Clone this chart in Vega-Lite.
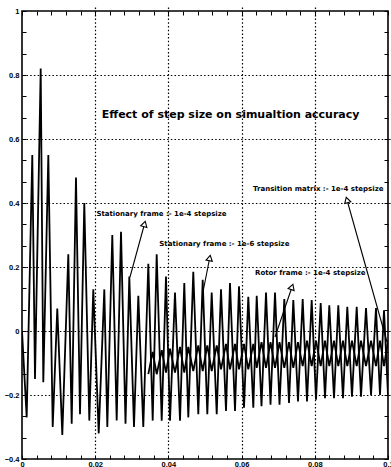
{
  "$schema": "https://vega.github.io/schema/vega-lite/v6.json",
  "autosize": "none",
  "width": 366,
  "height": 448,
  "padding": {"left": 22, "top": 11, "right": 3, "bottom": 8},
  "background": "white",
  "config": {
    "view": {"stroke": "black", "strokeWidth": 1.6},
    "font": "Liberation Sans",
    "axis": {"domain": false, "labelFont": "Liberation Sans", "labelFontWeight": "bold", "labelFontSize": 7.5, "labelColor": "black", "tickColor": "black", "tickSize": 4, "offset": -4, "tickWidth": 1, "labelOverlap": false, "labelFlush": false, "title": null}
  },
  "datasets": {
    "sig": [
      {"s": "A", "t": 0, "v": 0.0},
      {"s": "A", "t": 0.00128, "v": -0.27},
      {"s": "A", "t": 0.00281, "v": 0.55},
      {"s": "A", "t": 0.00355, "v": -0.15},
      {"s": "A", "t": 0.00511, "v": 0.82},
      {"s": "A", "t": 0.00582, "v": -0.16},
      {"s": "A", "t": 0.00719, "v": 0.55},
      {"s": "A", "t": 0.00839, "v": -0.30},
      {"s": "A", "t": 0.00964, "v": 0.07},
      {"s": "A", "t": 0.01101, "v": -0.325},
      {"s": "A", "t": 0.01265, "v": 0.24},
      {"s": "A", "t": 0.01358, "v": -0.29},
      {"s": "A", "t": 0.01475, "v": 0.48},
      {"s": "A", "t": 0.01585, "v": -0.26},
      {"s": "A", "t": 0.01702, "v": 0.40},
      {"s": "A", "t": 0.01839, "v": -0.28},
      {"s": "A", "t": 0.01948, "v": 0.13},
      {"s": "A", "t": 0.02096, "v": -0.32},
      {"s": "A", "t": 0.02249, "v": 0.13},
      {"s": "A", "t": 0.02331, "v": -0.30},
      {"s": "A", "t": 0.02467, "v": 0.30},
      {"s": "A", "t": 0.02587, "v": -0.28},
      {"s": "A", "t": 0.02705, "v": 0.31},
      {"s": "A", "t": 0.02828, "v": -0.29},
      {"s": "A", "t": 0.02932, "v": 0.17},
      {"s": "A", "t": 0.0306, "v": -0.30},
      {"s": "A", "t": 0.03178, "v": 0.11},
      {"s": "A", "t": 0.03314, "v": -0.30},
      {"s": "A", "t": 0.03451, "v": 0.21},
      {"s": "A", "t": 0.03571, "v": -0.28},
      {"s": "A", "t": 0.0368, "v": 0.24},
      {"s": "A", "t": 0.03817, "v": -0.28},
      {"s": "A", "t": 0.03934, "v": 0.17},
      {"s": "A", "t": 0.04044, "v": -0.28},
      {"s": "A", "t": 0.0418, "v": 0.12},
      {"s": "A", "t": 0.04317, "v": -0.28},
      {"s": "A", "t": 0.04434, "v": 0.15},
      {"s": "A", "t": 0.04544, "v": -0.27},
      {"s": "A", "t": 0.0468, "v": 0.185},
      {"s": "A", "t": 0.04817, "v": -0.26},
      {"s": "A", "t": 0.04937, "v": 0.16},
      {"s": "A", "t": 0.05063, "v": -0.26},
      {"s": "A", "t": 0.05183, "v": 0.12},
      {"s": "A", "t": 0.0532, "v": -0.26},
      {"s": "A", "t": 0.05437, "v": 0.13},
      {"s": "A", "t": 0.05574, "v": -0.25},
      {"s": "A", "t": 0.05683, "v": 0.15},
      {"s": "A", "t": 0.0582, "v": -0.25},
      {"s": "A", "t": 0.05929, "v": 0.14},
      {"s": "A", "t": 0.06066, "v": -0.24},
      {"s": "A", "t": 0.06183, "v": 0.107},
      {"s": "A", "t": 0.0632, "v": -0.24},
      {"s": "A", "t": 0.06413, "v": 0.11},
      {"s": "A", "t": 0.06544, "v": -0.235},
      {"s": "A", "t": 0.06667, "v": 0.12},
      {"s": "A", "t": 0.0679, "v": -0.23},
      {"s": "A", "t": 0.06913, "v": 0.12},
      {"s": "A", "t": 0.07036, "v": -0.23},
      {"s": "A", "t": 0.07167, "v": 0.10},
      {"s": "A", "t": 0.07295, "v": -0.225},
      {"s": "A", "t": 0.07413, "v": 0.097},
      {"s": "A", "t": 0.07541, "v": -0.22},
      {"s": "A", "t": 0.07669, "v": 0.10},
      {"s": "A", "t": 0.07787, "v": -0.22},
      {"s": "A", "t": 0.07915, "v": 0.097},
      {"s": "A", "t": 0.08033, "v": -0.215},
      {"s": "A", "t": 0.08161, "v": 0.087},
      {"s": "A", "t": 0.08279, "v": -0.21},
      {"s": "A", "t": 0.08396, "v": 0.08},
      {"s": "A", "t": 0.08525, "v": -0.21},
      {"s": "A", "t": 0.08642, "v": 0.08},
      {"s": "A", "t": 0.0877, "v": -0.21},
      {"s": "A", "t": 0.08888, "v": 0.076},
      {"s": "A", "t": 0.09016, "v": -0.205},
      {"s": "A", "t": 0.09145, "v": 0.076},
      {"s": "A", "t": 0.09262, "v": -0.205},
      {"s": "A", "t": 0.09399, "v": 0.072},
      {"s": "A", "t": 0.09536, "v": -0.20},
      {"s": "A", "t": 0.09672, "v": 0.072},
      {"s": "A", "t": 0.09781, "v": -0.20},
      {"s": "A", "t": 0.09891, "v": 0.065},
      {"s": "A", "t": 0.1, "v": -0.20},
      {"s": "B", "t": 0.03451, "v": -0.135},
      {"s": "B", "t": 0.03571, "v": -0.065},
      {"s": "B", "t": 0.0368, "v": -0.135},
      {"s": "B", "t": 0.03817, "v": -0.06},
      {"s": "B", "t": 0.03934, "v": -0.13},
      {"s": "B", "t": 0.04044, "v": -0.055},
      {"s": "B", "t": 0.0418, "v": -0.13},
      {"s": "B", "t": 0.04317, "v": -0.05},
      {"s": "B", "t": 0.04434, "v": -0.13},
      {"s": "B", "t": 0.04544, "v": -0.05},
      {"s": "B", "t": 0.0468, "v": -0.125},
      {"s": "B", "t": 0.04817, "v": -0.045},
      {"s": "B", "t": 0.04937, "v": -0.125},
      {"s": "B", "t": 0.05063, "v": -0.045},
      {"s": "B", "t": 0.05183, "v": -0.125},
      {"s": "B", "t": 0.0532, "v": -0.045},
      {"s": "B", "t": 0.05437, "v": -0.12},
      {"s": "B", "t": 0.05574, "v": -0.04},
      {"s": "B", "t": 0.05683, "v": -0.12},
      {"s": "B", "t": 0.0582, "v": -0.04},
      {"s": "B", "t": 0.05929, "v": -0.12},
      {"s": "B", "t": 0.06066, "v": -0.04},
      {"s": "B", "t": 0.06183, "v": -0.12},
      {"s": "B", "t": 0.0632, "v": -0.04},
      {"s": "B", "t": 0.06413, "v": -0.115},
      {"s": "B", "t": 0.06544, "v": -0.035},
      {"s": "B", "t": 0.06667, "v": -0.115},
      {"s": "B", "t": 0.0679, "v": -0.035},
      {"s": "B", "t": 0.06913, "v": -0.115},
      {"s": "B", "t": 0.07036, "v": -0.035},
      {"s": "B", "t": 0.07167, "v": -0.115},
      {"s": "B", "t": 0.07295, "v": -0.035},
      {"s": "B", "t": 0.07413, "v": -0.115},
      {"s": "B", "t": 0.07541, "v": -0.035},
      {"s": "B", "t": 0.07669, "v": -0.11},
      {"s": "B", "t": 0.07787, "v": -0.03},
      {"s": "B", "t": 0.07915, "v": -0.11},
      {"s": "B", "t": 0.08033, "v": -0.03},
      {"s": "B", "t": 0.08161, "v": -0.11},
      {"s": "B", "t": 0.08279, "v": -0.03},
      {"s": "B", "t": 0.08396, "v": -0.11},
      {"s": "B", "t": 0.08525, "v": -0.03},
      {"s": "B", "t": 0.08642, "v": -0.11},
      {"s": "B", "t": 0.0877, "v": -0.03},
      {"s": "B", "t": 0.08888, "v": -0.11},
      {"s": "B", "t": 0.09016, "v": -0.03},
      {"s": "B", "t": 0.09145, "v": -0.11},
      {"s": "B", "t": 0.09262, "v": -0.03},
      {"s": "B", "t": 0.09399, "v": -0.11},
      {"s": "B", "t": 0.09536, "v": -0.03},
      {"s": "B", "t": 0.09672, "v": -0.11},
      {"s": "B", "t": 0.09781, "v": -0.03},
      {"s": "B", "t": 0.09891, "v": -0.11},
      {"s": "B", "t": 0.1, "v": -0.03}
    ],
    "arrows": [
      {"id": 1, "t": 0.02951, "v": 0.1688, "t2": 0.03347, "v2": 0.3344},
      {"id": 2, "t": 0.04945, "v": 0.1219, "t2": 0.05128, "v2": 0.2281},
      {"id": 3, "t": 0.06913, "v": -0.0188, "t2": 0.07377, "v2": 0.1375},
      {"id": 4, "t": 0.09973, "v": -0.0344, "t2": 0.0888, "v2": 0.4094}
    ],
    "labels": [
      {"label": "Effect of step size on simualtion accuracy", "kind": "title", "t": 0.02178, "v": 0.675},
      {"label": "Stationary frame :- 1e-4 stepsize", "kind": "note", "t": 0.02033, "v": 0.366},
      {"label": "Stationary frame :- 1e-6 stepsize", "kind": "note", "t": 0.03751, "v": 0.272},
      {"label": "Rotor frame :- 1e-4 stepsize", "kind": "note", "t": 0.06366, "v": 0.18},
      {"label": "Transition matrix :- 1e-4 stepsize", "kind": "note", "t": 0.06311, "v": 0.444}
    ]
  },
  "layer": [
    {
      "data": {"name": "sig"},
      "mark": {"type": "line", "color": "black", "strokeWidth": 1.8, "clip": true},
      "encoding": {
        "x": {"field": "t", "type": "quantitative", "scale": {"domain": [0, 0.1], "nice": false, "zero": false},
          "axis": {"orient": "bottom", "values": [0,0.004,0.008,0.012,0.016,0.02,0.024,0.028,0.032,0.036,0.04,0.044,0.048,0.052,0.056,0.06,0.064,0.068,0.072,0.076,0.08,0.084,0.088,0.092,0.096,0.1],
            "labelExpr": "abs(datum.value*50-round(datum.value*50))<0.01 ? format(datum.value,'~g') : ''",
            "labelPadding": 1,
            "grid": true, "gridColor": "black", "gridWidth": 1.2, "gridDash": [1.5, 2.2],
            "gridOpacity": {"condition": {"test": "abs(datum.value*50-round(datum.value*50))<0.01 && datum.value>0.001 && datum.value<0.099", "value": 1}, "value": 0}}},
        "y": {"field": "v", "type": "quantitative", "scale": {"domain": [-0.4, 1], "nice": false, "zero": false},
          "axis": {"orient": "left", "values": [-0.4,-0.3333,-0.2667,-0.2,-0.1333,-0.0667,0,0.0667,0.1333,0.2,0.2667,0.3333,0.4,0.4667,0.5333,0.6,0.6667,0.7333,0.8,0.8667,0.9333,1],
            "labelExpr": "abs(datum.value*5-round(datum.value*5))<0.01 ? format(datum.value,'~g') : ''",
            "labelPadding": 3,
            "grid": true, "gridColor": "black", "gridWidth": 1.2, "gridDash": [1.5, 2.2],
            "gridOpacity": {"condition": {"test": "abs(datum.value*5-round(datum.value*5))<0.01 && datum.value>-0.39 && datum.value<0.99", "value": 1}, "value": 0}}},
        "detail": {"field": "s", "type": "nominal"}
      }
    },
    {
      "data": {"name": "arrows"},
      "mark": {"type": "rule", "color": "black", "strokeWidth": 1.1},
      "encoding": {
        "x": {"field": "t", "type": "quantitative",
          "axis": {"orient": "top", "labels": false, "grid": false, "values": [0,0.004,0.008,0.012,0.016,0.02,0.024,0.028,0.032,0.036,0.04,0.044,0.048,0.052,0.056,0.06,0.064,0.068,0.072,0.076,0.08,0.084,0.088,0.092,0.096,0.1]}},
        "y": {"field": "v", "type": "quantitative",
          "axis": {"orient": "right", "labels": false, "grid": false, "values": [-0.4,-0.3333,-0.2667,-0.2,-0.1333,-0.0667,0,0.0667,0.1333,0.2,0.2667,0.3333,0.4,0.4667,0.5333,0.6,0.6667,0.7333,0.8,0.8667,0.9333,1]}},
        "x2": {"field": "t2"},
        "y2": {"field": "v2"}
      }
    },
    {
      "data": {"name": "arrows"},
      "transform": [{"filter": "datum.id == 1"}],
      "mark": {"type": "point", "shape": "triangle-up", "filled": true, "fill": "white", "stroke": "black", "strokeWidth": 1.1, "size": 40, "angle": 15, "opacity": 1},
      "encoding": {"x": {"field": "t2", "type": "quantitative", "axis": null}, "y": {"field": "v2", "type": "quantitative", "axis": null}}
    },
    {
      "data": {"name": "arrows"},
      "transform": [{"filter": "datum.id == 2"}],
      "mark": {"type": "point", "shape": "triangle-up", "filled": true, "fill": "white", "stroke": "black", "strokeWidth": 1.1, "size": 40, "angle": 11, "opacity": 1},
      "encoding": {"x": {"field": "t2", "type": "quantitative", "axis": null}, "y": {"field": "v2", "type": "quantitative", "axis": null}}
    },
    {
      "data": {"name": "arrows"},
      "transform": [{"filter": "datum.id == 3"}],
      "mark": {"type": "point", "shape": "triangle-up", "filled": true, "fill": "white", "stroke": "black", "strokeWidth": 1.1, "size": 40, "angle": 19, "opacity": 1},
      "encoding": {"x": {"field": "t2", "type": "quantitative", "axis": null}, "y": {"field": "v2", "type": "quantitative", "axis": null}}
    },
    {
      "data": {"name": "arrows"},
      "transform": [{"filter": "datum.id == 4"}],
      "mark": {"type": "point", "shape": "triangle-up", "filled": true, "fill": "white", "stroke": "black", "strokeWidth": 1.1, "size": 40, "angle": -16, "opacity": 1},
      "encoding": {"x": {"field": "t2", "type": "quantitative", "axis": null}, "y": {"field": "v2", "type": "quantitative", "axis": null}}
    },
    {
      "data": {"name": "labels"},
      "transform": [{"filter": "datum.kind == 'title'"}],
      "mark": {"type": "text", "align": "left", "baseline": "middle", "font": "DejaVu Sans", "fontWeight": "bold", "fontSize": 11, "color": "black"},
      "encoding": {"x": {"field": "t", "type": "quantitative", "axis": null}, "y": {"field": "v", "type": "quantitative", "axis": null}, "text": {"field": "label"}}
    },
    {
      "data": {"name": "labels"},
      "transform": [{"filter": "datum.kind == 'note'"}],
      "mark": {"type": "text", "align": "left", "baseline": "middle", "font": "DejaVu Sans", "fontWeight": "bold", "fontSize": 7, "color": "black"},
      "encoding": {"x": {"field": "t", "type": "quantitative", "axis": null}, "y": {"field": "v", "type": "quantitative", "axis": null}, "text": {"field": "label"}}
    }
  ],
  "resolve": {"axis": {"x": "independent", "y": "independent"}}
}
